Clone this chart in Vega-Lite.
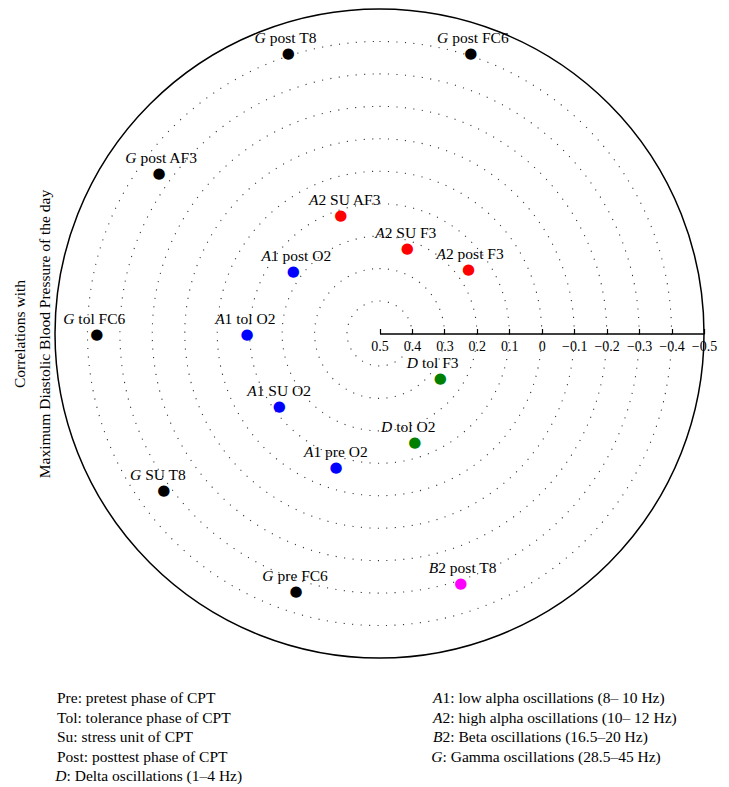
{
  "$schema": "https://vega.github.io/schema/vega-lite/v6.json",
  "background": "white",
  "padding": {"left": 12, "top": 6, "right": 5, "bottom": 5},
  "bounds": "flush",
  "spacing": 40,
  "config": {"view": {"stroke": null}, "font": "Liberation Serif"},
  "datasets": {
    "rings": [
      {"level": 0.4}, {"level": 0.3}, {"level": 0.2}, {"level": 0.1}, {"level": 0},
      {"level": -0.1}, {"level": -0.2}, {"level": -0.3}, {"level": -0.4}
    ],
    "pts": [
      {"pre": "G", "rest": "post T8", "band": "G", "corr": -0.41, "angle": 342},
      {"pre": "G", "rest": "post FC6", "band": "G", "corr": -0.41, "angle": 18},
      {"pre": "G", "rest": "post AF3", "band": "G", "corr": -0.34, "angle": 306},
      {"pre": "A", "rest": "2 SU AF3", "band": "A2", "corr": 0.115, "angle": 342},
      {"pre": "A", "rest": "2 SU F3", "band": "A2", "corr": 0.224, "angle": 18},
      {"pre": "A", "rest": "2 post F3", "band": "A2", "corr": 0.161, "angle": 54},
      {"pre": "A", "rest": "1 post O2", "band": "A1", "corr": 0.172, "angle": 306},
      {"pre": "G", "rest": "tol FC6", "band": "G", "corr": -0.371, "angle": 270},
      {"pre": "A", "rest": "1 tol O2", "band": "A1", "corr": 0.092, "angle": 270},
      {"pre": "D", "rest": "tol F3", "band": "D", "corr": 0.268, "angle": 126},
      {"pre": "A", "rest": "1 SU O2", "band": "A1", "corr": 0.118, "angle": 234},
      {"pre": "D", "rest": "tol O2", "band": "D", "corr": 0.148, "angle": 162},
      {"pre": "A", "rest": "1 pre O2", "band": "A1", "corr": 0.066, "angle": 198},
      {"pre": "G", "rest": "SU T8", "band": "G", "corr": -0.322, "angle": 234},
      {"pre": "G", "rest": "pre FC6", "band": "G", "corr": -0.333, "angle": 198},
      {"pre": "B", "rest": "2 post T8", "band": "B2", "corr": -0.31, "angle": 162}
    ],
    "notes": [
      {"col": "L", "line": 1, "pre": "", "rest": "Pre: pretest phase of CPT"},
      {"col": "L", "line": 2, "pre": "", "rest": "Tol: tolerance phase of CPT"},
      {"col": "L", "line": 3, "pre": "", "rest": "Su: stress unit of CPT"},
      {"col": "L", "line": 4, "pre": "", "rest": "Post: posttest phase of CPT"},
      {"col": "L", "line": 5, "pre": "D", "rest": ": Delta oscillations (1–4 Hz)"},
      {"col": "R", "line": 1, "pre": "A", "rest": "1: low alpha oscillations (8– 10 Hz)"},
      {"col": "R", "line": 2, "pre": "A", "rest": "2: high alpha oscillations (10– 12 Hz)"},
      {"col": "R", "line": 3, "pre": "B", "rest": "2: Beta oscillations (16.5–20 Hz)"},
      {"col": "R", "line": 4, "pre": "G", "rest": ": Gamma oscillations (28.5–45 Hz)"}
    ]
  },
  "vconcat": [
    {
      "width": 649,
      "height": 649,
      "layer": [
        {
          "data": {"name": "rings"},
          "mark": {"type": "arc", "theta": 0, "theta2": 6.2832, "filled": false, "stroke": "#333333", "strokeWidth": 1.1, "strokeDash": [1.1, 7.4]},
          "encoding": {
            "radius": {"field": "level", "type": "quantitative", "stack": null, "scale": {"type": "linear", "domain": [0.5, -0.5], "range": [0, 324.5], "zero": false, "nice": false}}
          }
        },
        {
          "data": {"values": [{"level": -0.5}]},
          "mark": {"type": "arc", "theta": 0, "theta2": 6.2832, "filled": false, "stroke": "black", "strokeWidth": 1.5},
          "encoding": {
            "radius": {"field": "level", "type": "quantitative", "stack": null}
          }
        },
        {
          "data": {"values": [{"v": 0.5}, {"v": -0.5}]},
          "mark": {"type": "point", "opacity": 0},
          "encoding": {
            "x": {
              "field": "v", "type": "quantitative",
              "scale": {"domain": [0.5, -0.5], "range": [324.5, 649], "nice": false, "zero": false},
              "axis": {
                "orient": "bottom", "offset": -324.5, "title": null, "grid": false,
                "values": [0.5, 0.4, 0.3, 0.2, 0.1, 0, -0.1, -0.2, -0.3, -0.4, -0.5],
                "format": ".1~f", "labelFlush": false, "labelOverlap": false,
                "domainColor": "black", "domainWidth": 1.5,
                "tickColor": "black", "tickWidth": 1.2, "tickSize": -5,
                "labelFont": "Liberation Serif", "labelFontSize": 14, "labelColor": "black", "labelPadding": 11,
                "zindex": 2
              }
            },
            "y": {
              "field": "v", "type": "quantitative",
              "scale": {"domain": [-1, 1]},
              "axis": {
                "title": ["Correlations with", "Maximum Diastolic Blood Pressure of the day"],
                "labels": false, "ticks": false, "domain": false, "grid": false,
                "titlePadding": 3, "titleFont": "Liberation Serif", "titleFontSize": 15.5,
                "titleFontWeight": "normal", "titleLineHeight": 25, "titleColor": "black"
              }
            }
          }
        },
        {
          "data": {"name": "pts"},
          "mark": {"type": "text", "text": "●", "font": "DejaVu Sans", "fontSize": 15, "align": "center", "baseline": "middle"},
          "encoding": {
            "theta": {"field": "angle", "type": "quantitative", "stack": null, "scale": {"domain": [0, 360], "range": [0, 6.283185307179586]}},
            "radius": {"field": "corr", "type": "quantitative", "stack": null},
            "color": {"field": "band", "type": "nominal", "legend": null,
              "scale": {"domain": ["A1", "A2", "B2", "D", "G"], "range": ["#0000ff", "#ff0000", "#ff00ff", "#008000", "#000000"]}}
          }
        },
        {
          "data": {"name": "pts"},
          "mark": {"type": "text", "font": "Liberation Serif", "fontSize": 15.5, "fontStyle": "italic", "align": "right", "baseline": "alphabetic", "dx": -22.5, "dy": -10, "color": "black"},
          "encoding": {
            "theta": {"field": "angle", "type": "quantitative", "stack": null},
            "radius": {"field": "corr", "type": "quantitative", "stack": null},
            "text": {"field": "pre"}
          }
        },
        {
          "data": {"name": "pts"},
          "transform": [{"filter": "datum.band != 'G' && datum.band != 'D'"}],
          "mark": {"type": "text", "font": "Liberation Serif", "fontSize": 15.5, "align": "left", "baseline": "alphabetic", "dx": -22.5, "dy": -10, "color": "black"},
          "encoding": {
            "theta": {"field": "angle", "type": "quantitative", "stack": null},
            "radius": {"field": "corr", "type": "quantitative", "stack": null},
            "text": {"field": "rest"}
          }
        },
        {
          "data": {"name": "pts"},
          "transform": [{"filter": "datum.band == 'G' || datum.band == 'D'"}],
          "mark": {"type": "text", "font": "Liberation Serif", "fontSize": 15.5, "align": "left", "baseline": "alphabetic", "dx": -18.5, "dy": -10, "color": "black"},
          "encoding": {
            "theta": {"field": "angle", "type": "quantitative", "stack": null},
            "radius": {"field": "corr", "type": "quantitative", "stack": null},
            "text": {"field": "rest"}
          }
        }
      ]
    },
    {
      "width": 649,
      "height": 78,
      "data": {"name": "notes"},
      "encoding": {
        "x": {"field": "col", "type": "nominal", "scale": {"type": "point", "domain": ["L", "R"], "range": [2, 378], "padding": 0}, "axis": null},
        "y": {"field": "line", "type": "ordinal", "scale": {"type": "point", "domain": [1, 2, 3, 4, 5], "range": [0, 78], "padding": 0}, "axis": null}
      },
      "layer": [
        {
          "transform": [{"filter": "datum.pre == ''"}],
          "mark": {"type": "text", "align": "left", "baseline": "middle", "font": "Liberation Serif", "fontSize": 15.5, "color": "black"},
          "encoding": {"text": {"field": "rest"}}
        },
        {
          "transform": [{"filter": "datum.pre != ''"}],
          "mark": {"type": "text", "align": "right", "baseline": "middle", "dx": 9.5, "font": "Liberation Serif", "fontSize": 15.5, "fontStyle": "italic", "color": "black"},
          "encoding": {"text": {"field": "pre"}}
        },
        {
          "transform": [{"filter": "datum.pre != ''"}],
          "mark": {"type": "text", "align": "left", "baseline": "middle", "dx": 9.5, "font": "Liberation Serif", "fontSize": 15.5, "color": "black"},
          "encoding": {"text": {"field": "rest"}}
        }
      ]
    }
  ]
}
